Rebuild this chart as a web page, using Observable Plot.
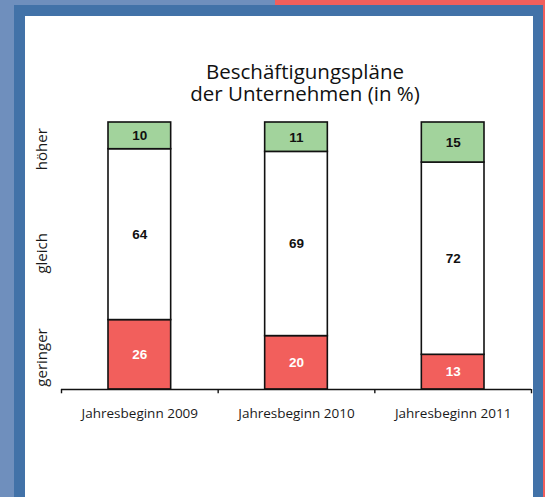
<!DOCTYPE html>
<html><head><meta charset="utf-8">
<script src="https://cdn.jsdelivr.net/npm/d3@7"></script>
<script src="https://cdn.jsdelivr.net/npm/@observablehq/plot@0.6"></script>
<style>
body{margin:0;}
#wrap{position:relative;width:545px;height:497px;background:#6f8fbd;overflow:hidden;font-family:"Open Sans",sans-serif;}
.red-top{position:absolute;left:275px;top:0;width:270px;height:5px;background:#f25f5c;}
.red-right{position:absolute;left:543px;top:0;width:2px;height:497px;background:#f25f5c;}
.blue{position:absolute;left:14px;top:5px;width:529px;height:492px;background:#4272a8;}
.panel{position:absolute;left:25px;top:16px;width:508px;height:481px;background:#fff;}
#title{position:absolute;left:155px;width:300px;top:60px;text-align:center;font-size:20.5px;line-height:22px;font-weight:500;color:#111;}
#chart{position:absolute;left:0;top:0;}
</style></head>
<body>
<div id="wrap">
<div class="red-top"></div><div class="blue"></div><div class="red-right"></div><div class="panel"></div>
<div id="chart"></div>
<div id="title">Beschäftigungspläne<br>der Unternehmen (in %)</div>
</div>
<script>
const categories = ["Jahresbeginn 2009", "Jahresbeginn 2010", "Jahresbeginn 2011"];
const geringer = [26, 20, 13];
const gleich = [64, 69, 72];
const hoeher = [10, 11, 15];
const rowLabels = ["geringer", "gleich", "höher"];
const rowLabelPos = [12, 51, 90];
const colors = {geringer: "#f25f5c", gleich: "#ffffff", hoeher: "#a2d39c"};

const segs = [];
categories.forEach((c, i) => {
  let base = 0;
  [["geringer", geringer[i]], ["gleich", gleich[i]], ["hoeher", hoeher[i]]].forEach(([k, v]) => {
    segs.push({i, cat: k, v, y1: base, y2: base + v, color: colors[k]});
    base += v;
  });
});
const tickPos = d3.range(categories.length + 1).map(k => k - 0.5);

const chart = Plot.plot({
  width: 545, height: 497,
  marginLeft: 61, marginRight: 14, marginTop: 122, marginBottom: 108,
  x: {domain: [-0.5, categories.length - 0.5], axis: null},
  y: {domain: [0, 100], axis: null},
  color: {type: "identity"},
  style: {background: "transparent", overflow: "visible"},
  marks: [
    Plot.rectY(segs, {x1: d => d.i - 0.2, x2: d => d.i + 0.2, y1: "y1", y2: "y2", fill: "color", stroke: "#111", strokeWidth: 1.6}),
    Plot.text(segs, {x: "i", y: d => (d.y1 + d.y2) / 2, text: d => String(d.v),
      fill: d => d.cat === "geringer" ? "#ffffff" : "#111111",
      fontWeight: "bold", fontSize: 13.5, fontFamily: "Liberation Sans, Arial, sans-serif"}),
    Plot.ruleY([0], {stroke: "#111", strokeWidth: 1.6}),
    Plot.ruleX(tickPos, {y1: 0, y2: -1.6, stroke: "#111", strokeWidth: 1.4}),
    Plot.text(categories, {x: (d, i) => i, y: () => 0, text: d => d, dy: 24, fontSize: 13.5, fill: "#1a1a1a", fontFamily: "Open Sans, sans-serif"}),
    Plot.text(rowLabels, {x: () => -0.5, y: (d, i) => rowLabelPos[i], text: d => d, rotate: -90, dx: -19, fontSize: 15, fill: "#1a1a1a", fontFamily: "Open Sans, sans-serif"})
  ]
});
document.getElementById("chart").appendChild(chart);
</script>
</body></html>
